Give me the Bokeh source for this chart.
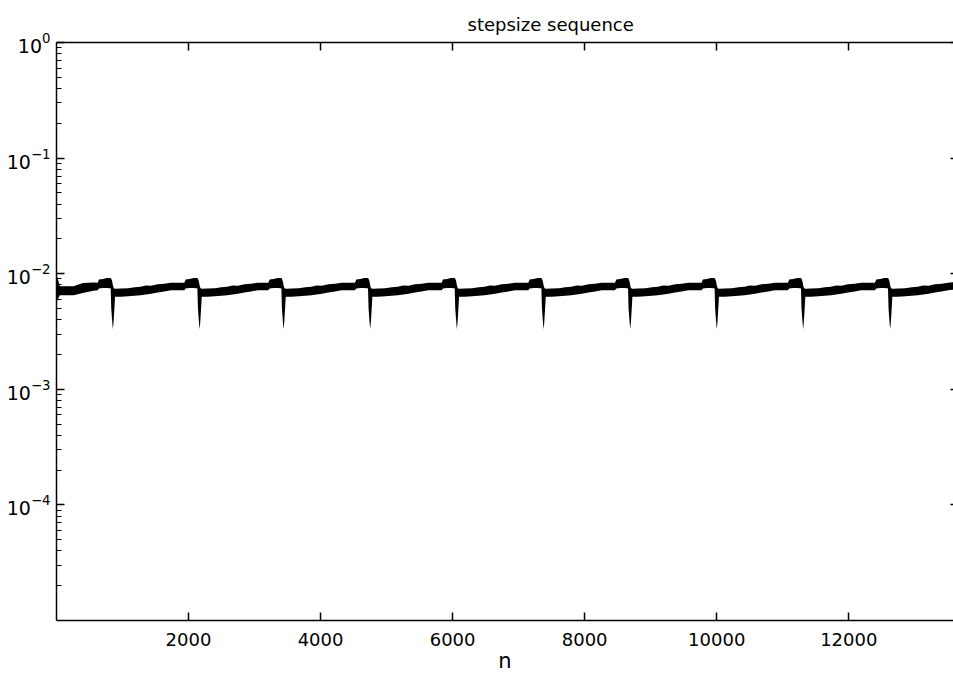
from bokeh.plotting import figure
from bokeh.models import (ColumnDataSource, Range1d, LinearAxis, LogAxis,
                          FixedTicker, LogTickFormatter)
from bokeh.embed import file_html
from bokeh.resources import INLINE

# ---- data -----------------------------------------------------------------
# sample index of each sharp dip of the stepsize
dip_n = [854, 2167, 3439, 4751, 6064, 7377, 8689, 10000, 11308, 12626]

# band before the first dip (start of the run)
head_n = [1, 15, 50, 260, 400, 560]
head_hi = [0.00935, 0.00935, 0.00777, 0.00777, 0.00830, 0.00840]
head_lo = [0.00588, 0.00588, 0.00650, 0.00652, 0.00680, 0.00712]

# band just before every dip (offset from the dip)
pre_off = [-230, -210, -150, -90, -45, -32]
pre_hi = [0.00836, 0.00893, 0.00900, 0.00916, 0.00916, 0.00916]
pre_lo = [0.00718, 0.00745, 0.00754, 0.00751, 0.00748, 0.00745]

# the dip itself (offset from the dip)
dip_off = [-24, -10, 0, 10, 22, 34]
dip_hi = [0.00905, 0.00860, 0.00800, 0.00760, 0.00745, 0.00742]
dip_lo = [0.00500, 0.00390, 0.00330, 0.00370, 0.00480, 0.00631]

# band after every dip (offset from the dip)
post_off = [45, 120, 230, 330, 420, 500, 580, 680, 780, 880]
post_hi = [0.00742, 0.00744, 0.00750, 0.00762, 0.00770, 0.00792, 0.00786, 0.00810, 0.00818, 0.00836]
post_lo = [0.00631, 0.00633, 0.00637, 0.00643, 0.00650, 0.00660, 0.00672, 0.00686, 0.00702, 0.00718]

# end of the run
tail_n = [13586]
tail_hi = [0.00846]
tail_lo = [0.00728]

x_ticks = [2000, 4000, 6000, 8000, 10000, 12000]
y_major = [1e0, 1e-1, 1e-2, 1e-3, 1e-4]
y_minor_mult = [2, 3, 4, 5, 6, 7, 8, 9]
y_minor_dec = [1e-1, 1e-2, 1e-3, 1e-4, 1e-5]

# ---- assemble the band ------------------------------------------------------
n_vals, hi_vals, lo_vals = list(head_n), list(head_hi), list(head_lo)
for d in dip_n:
    for offs, his, los in ((pre_off, pre_hi, pre_lo),
                           (dip_off, dip_hi, dip_lo),
                           (post_off, post_hi, post_lo)):
        n_vals += [d + o for o in offs]
        hi_vals += his
        lo_vals += los
n_vals += tail_n
hi_vals += tail_hi
lo_vals += tail_lo

src = ColumnDataSource(dict(n=n_vals, hi=hi_vals, lo=lo_vals))
y_minor = [m * d for d in y_minor_dec for m in y_minor_mult]

FONT = "DejaVu Sans"

p = figure(width=953, height=675,
           x_range=Range1d(1, 13586), y_range=Range1d(1e-5, 1),
           y_axis_type="log", output_backend="svg", toolbar_location=None,
           min_border_left=56, min_border_right=0,
           min_border_top=42, min_border_bottom=54)
p.background_fill_color = "white"
p.border_fill_color = "white"
p.outline_line_color = None
p.xgrid.visible = False
p.ygrid.visible = False

p.varea(x="n", y1="lo", y2="hi", source=src, fill_color="black")

# bottom axis
xa = p.xaxis[0]
xa.ticker = FixedTicker(ticks=x_ticks)
xa.major_tick_in = 8
xa.major_tick_out = 0
xa.minor_tick_in = 0
xa.minor_tick_out = 0
xa.axis_line_width = 1.5
xa.major_tick_line_width = 1.5
xa.axis_line_color = "black"
xa.major_label_text_font = FONT
xa.major_label_text_font_size = "18px"
xa.major_label_text_color = "black"
xa.major_label_standoff = 12
xa.axis_label = "n"
xa.axis_label_text_font = FONT
xa.axis_label_text_font_size = "21px"
xa.axis_label_text_font_style = "normal"
xa.axis_label_text_color = "black"
xa.axis_label_standoff = 0

# left axis
ya = p.yaxis[0]
ya.ticker = FixedTicker(ticks=y_major, minor_ticks=y_minor)
ya.formatter = LogTickFormatter()
ya.major_tick_in = 8
ya.major_tick_out = 0
ya.minor_tick_in = 5
ya.minor_tick_out = 0
ya.axis_line_width = 1.5
ya.major_tick_line_width = 1.5
ya.axis_line_color = "black"
ya.major_label_text_font = FONT
ya.major_label_text_font_size = "19px"
ya.major_label_text_color = "black"
ya.major_label_standoff = 6

# top axis
top = LinearAxis(ticker=FixedTicker(ticks=x_ticks), major_tick_in=8, major_tick_out=0,
                 minor_tick_in=0, minor_tick_out=0, axis_line_width=1.5,
                 major_tick_line_width=1.5, major_label_text_color=None,
                 major_label_text_font_size="1px", major_label_standoff=0)
p.add_layout(top, "above")

# right axis (only the inner tips of its ticks are inside the picture)
right = LogAxis(ticker=FixedTicker(ticks=y_major), major_tick_in=3, major_tick_out=0,
                minor_tick_in=0, minor_tick_out=0, axis_line_color=None,
                major_tick_line_width=1.5, major_label_text_color=None,
                major_label_text_font_size="1px", major_label_standoff=0)
p.add_layout(right, "right")

p.title.text = "stepsize sequence"
p.title.align = "left"
p.title.offset = 411
p.title.text_font = FONT
p.title.text_font_size = "18px"
p.title.text_font_style = "normal"
p.title.text_color = "black"
p.title.standoff = 16

open("out.html", "w").write(file_html(p, INLINE))
